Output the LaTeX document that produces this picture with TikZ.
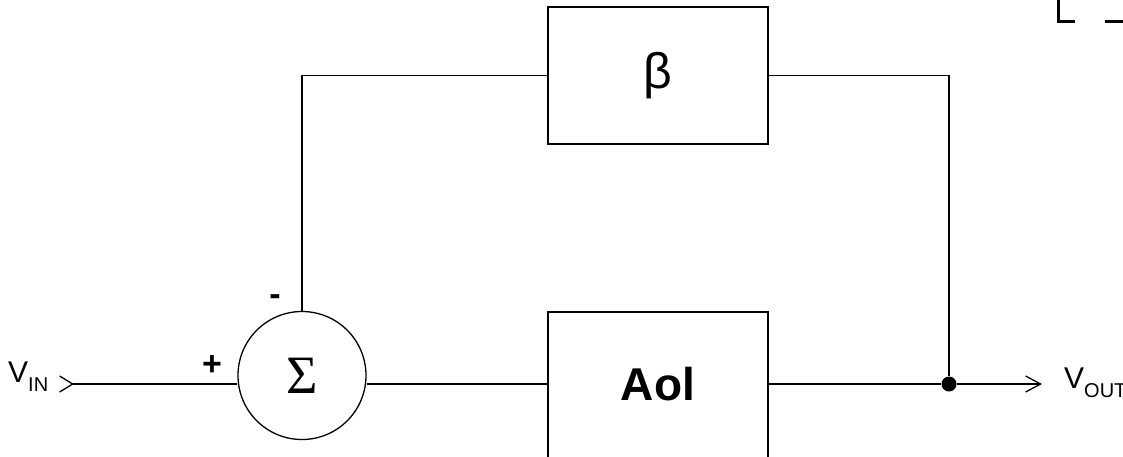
\documentclass[tikz,border=0pt]{standalone}
\usepackage{fontspec}
\setmainfont{Liberation Sans}
\newfontfamily\sumfont{Liberation Serif}
\usetikzlibrary{arrows.meta,positioning,calc}

\begin{document}
\begin{tikzpicture}[x=1pt, y=-1pt, wire/.style={line width=1.3pt}, block/.style={rectangle,draw,line width=1.6pt,minimum width=220pt,inner sep=0pt}, sign/.style={inner sep=0pt,font=\fontsize{34}{36}\selectfont\bfseries}, io/.style={anchor=base west,inner sep=0pt,font=\fontsize{30}{32}\selectfont}]
\useasboundingbox (0,0) rectangle (1123,456);
\clip (0,0) rectangle (1123,456);
\begin{scope}
\node[block,minimum height=137pt,font=\fontsize{50}{52}\selectfont] (beta) at (658,75.5) {β};
\node[block,minimum height=150pt,text depth=6pt,font=\fontsize{46}{48}\selectfont\bfseries] (aol) at (658,387) {Aol};
\node[circle,draw,line width=1.3pt,minimum size=128pt,inner sep=0pt,font=\sumfont\fontsize{54}{56}\selectfont] (sum) at (302,375.5) {Σ};
\node[circle,fill=black,minimum size=15pt,inner sep=0pt] (split) at (949,384) {};
\coordinate (vin) at (59,384);
\coordinate (vout) at (1042,384);
\end{scope}
\begin{scope}
\node[io] (vinlabel) at (8,382) {V\raisebox{-9pt}{\fontsize{20}{22}\selectfont IN}};
\node[io] (voutlabel) at (1064,388) {V\raisebox{-9pt}{\fontsize{20}{22}\selectfont OUT}};
\node[sign] (plus) at (212,366) {+};
\node[sign] (minus) at (275,300) {-};
\end{scope}
\begin{scope}
\draw[wire,{Straight Barb[reversed,length=13pt,width=16pt]}-] (vin) -- (vin -| sum.west);
\draw[wire] (vin -| sum.east) -- (vin -| aol.west);
\draw[wire] (vin -| aol.east) -- (split);
\draw[wire,-{Straight Barb[length=15pt,width=16pt]}] (split) -- (vout);
\draw[wire] (sum.north) |- (beta.west);
\draw[wire] (beta.east) -| (split);
\end{scope}
% cut-off marks, top right
\draw[line width=3pt] (1058,0) -- (1058,21) -- (1075,21);
\draw[line width=3pt] (1105,21) -- (1123,21);
\end{tikzpicture}
\end{document}
